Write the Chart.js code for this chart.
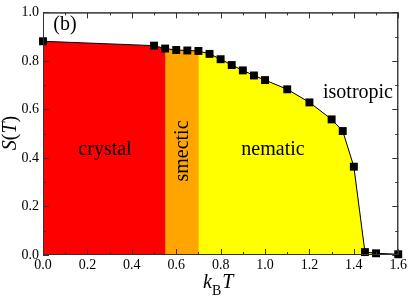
<!DOCTYPE html>
<html lang="en">
<head>
    <meta charset="UTF-8">
    <title>S(T) vs kBT</title>
    <script src="https://cdn.jsdelivr.net/npm/chart.js"></script>
    <style>
        html, body { margin: 0; padding: 0; background: #ffffff; }
        #wrap { width: 409px; height: 296px; }
    </style>
</head>
<body>
    <div id="wrap"><canvas id="orderChart"></canvas></div>
    <script>
        // data
        var temperature = [0.0, 0.5, 0.55, 0.6, 0.65, 0.7, 0.75, 0.8, 0.85, 0.9, 0.95, 1.0, 1.1, 1.2, 1.3, 1.35, 1.4, 1.45, 1.5, 1.6];
        var orderParam = [0.881, 0.863, 0.851, 0.845, 0.843, 0.841, 0.829, 0.807, 0.783, 0.761, 0.740, 0.721, 0.683, 0.629, 0.559, 0.511, 0.364, 0.012, 0.007, 0.003];

        // phase regions (colour under the curve), each starts at a transition
        var phaseNames = ['crystal', 'smectic', 'nematic'];
        var phaseFrom = [0.0, 0.55, 0.70];
        var phaseColors = ['#ff0000', '#ffa500', '#ffff00'];

        var xTicks = [0, 0.2, 0.4, 0.6, 0.8, 1.0, 1.2, 1.4, 1.6];
        var yTicks = [0, 0.2, 0.4, 0.6, 0.8, 1.0];

        var serif = "'Liberation Serif', 'DejaVu Serif', serif";
        Chart.defaults.font.family = serif;
        Chart.defaults.font.size = 14;
        Chart.defaults.color = '#000000';

        function points(a, b) {
            var out = [];
            for (var i = 0; i < temperature.length; i++) {
                if (temperature[i] >= a && temperature[i] <= b) {
                    out.push({ x: temperature[i], y: orderParam[i] });
                }
            }
            return out;
        }

        // later phases are stacked on top of earlier ones, so no seams show
        var datasets = [];
        for (var p = 0; p < phaseNames.length; p++) {
            datasets.push({
                label: phaseNames[p],
                data: points(phaseFrom[p], 1.6),
                order: 10 - p,
                borderWidth: 0,
                borderColor: 'rgba(0,0,0,0)',
                backgroundColor: phaseColors[p],
                fill: 'origin',
                pointRadius: 0,
                tension: 0
            });
        }
        datasets.push({
            label: 'S(T)',
            data: points(0, 1.6),
            order: 0,
            borderColor: '#000000',
            borderWidth: 1,
            backgroundColor: '#000000',
            pointStyle: 'rect',
            pointRadius: 5.6,
            pointBorderWidth: 0,
            fill: false,
            clip: false,
            tension: 0
        });

        function drawTicks(ctx, chart, both) {
            var a = chart.chartArea;
            var xs = chart.scales.x;
            var ys = chart.scales.y;
            ctx.strokeStyle = '#333333';
            ctx.lineWidth = 1;
            ctx.strokeRect(a.left + 0.5, a.top + 0.5, a.right - a.left - 1, a.bottom - a.top - 1);
            ctx.beginPath();
            for (var v = 0; v <= 16; v++) {
                var px = Math.round(xs.getPixelForValue(v / 10)) + 0.5;
                var len = v % 2 === 0 ? 6 : 3;
                ctx.moveTo(px, a.bottom); ctx.lineTo(px, a.bottom - len);
                if (both) { ctx.moveTo(px, a.top); ctx.lineTo(px, a.top + len); }
            }
            for (var w = 0; w <= 10; w++) {
                var py = Math.round(ys.getPixelForValue(w / 10)) + 0.5;
                var l2 = w % 2 === 0 ? 6 : 3;
                ctx.moveTo(a.left, py); ctx.lineTo(a.left + l2, py);
                if (both) { ctx.moveTo(a.right, py); ctx.lineTo(a.right - l2, py); }
            }
            ctx.stroke();
        }

        // frame, inward ticks, in-plot labels and axis titles
        var decorations = {
            id: 'decorations',
            beforeDatasetsDraw: function (chart) {
                var ctx = chart.ctx;
                ctx.save();
                drawTicks(ctx, chart, true);
                ctx.restore();
            },
            afterDatasetsDraw: function (chart) {
                var ctx = chart.ctx;
                ctx.save();
                drawTicks(ctx, chart, false);

                ctx.fillStyle = '#000000';
                ctx.textAlign = 'center';
                ctx.textBaseline = 'middle';
                ctx.font = '20px ' + serif;
                ctx.fillText('(b)', 65, 25);
                ctx.fillText('crystal', 105, 150);
                ctx.fillText('nematic', 273, 150);
                ctx.fillText('isotropic', 358, 93);
                ctx.save();
                ctx.translate(183, 151);
                ctx.rotate(-Math.PI / 2);
                ctx.fillText('smectic', 0, 0);
                ctx.restore();

                // y title S(T)
                ctx.save();
                ctx.translate(11, 133);
                ctx.rotate(-Math.PI / 2);
                ctx.textAlign = 'left';
                var parts = [['S', 'italic '], ['(', ''], ['T', 'italic '], [')', '']];
                var total = 0;
                parts.forEach(function (pt) { ctx.font = pt[1] + '20px ' + serif; total += ctx.measureText(pt[0]).width; });
                var cx = -total / 2;
                parts.forEach(function (pt) {
                    ctx.font = pt[1] + '20px ' + serif;
                    ctx.fillText(pt[0], cx, 0);
                    cx += ctx.measureText(pt[0]).width;
                });
                ctx.restore();

                // x title k_B T
                ctx.textAlign = 'left';
                ctx.textBaseline = 'alphabetic';
                ctx.font = 'italic 20px ' + serif;
                ctx.fillText('k', 203, 288);
                var kx = 203 + ctx.measureText('k').width;
                ctx.font = '14px ' + serif;
                ctx.fillText('B', kx, 295);
                kx += ctx.measureText('B').width + 1;
                ctx.font = 'italic 20px ' + serif;
                ctx.fillText('T', kx, 288);
                ctx.restore();
            }
        };

        var ctx = document.getElementById('orderChart').getContext('2d');
        new Chart(ctx, {
            type: 'line',
            data: { datasets: datasets },
            options: {
                responsive: true,
                maintainAspectRatio: false,
                animation: false,
                layout: { padding: { left: 0, right: 9, top: 5, bottom: 0 } },
                plugins: { legend: { display: false }, tooltip: { enabled: false } },
                scales: {
                    x: {
                        type: 'linear',
                        min: 0,
                        max: 1.6,
                        afterBuildTicks: function (s) { s.ticks = xTicks.map(function (v) { return { value: v }; }); },
                        afterFit: function (s) { s.height = 41; },
                        grid: { display: false, drawTicks: false, tickLength: 0 },
                        border: { display: false },
                        ticks: {
                            padding: 2,
                            color: '#000000',
                            font: { family: serif, size: 14 },
                            maxRotation: 0,
                            callback: function (v) { return v.toFixed(1); }
                        }
                    },
                    y: {
                        type: 'linear',
                        min: 0,
                        max: 1.0,
                        afterBuildTicks: function (s) { s.ticks = yTicks.map(function (v) { return { value: v }; }); },
                        afterFit: function (s) { s.width = 43; },
                        grid: { display: false, drawTicks: false, tickLength: 0 },
                        border: { display: false },
                        ticks: {
                            padding: 4,
                            color: '#000000',
                            font: { family: serif, size: 14 },
                            callback: function (v) { return v.toFixed(1); }
                        }
                    }
                }
            },
            plugins: [decorations]
        });
    </script>
</body>
</html>
